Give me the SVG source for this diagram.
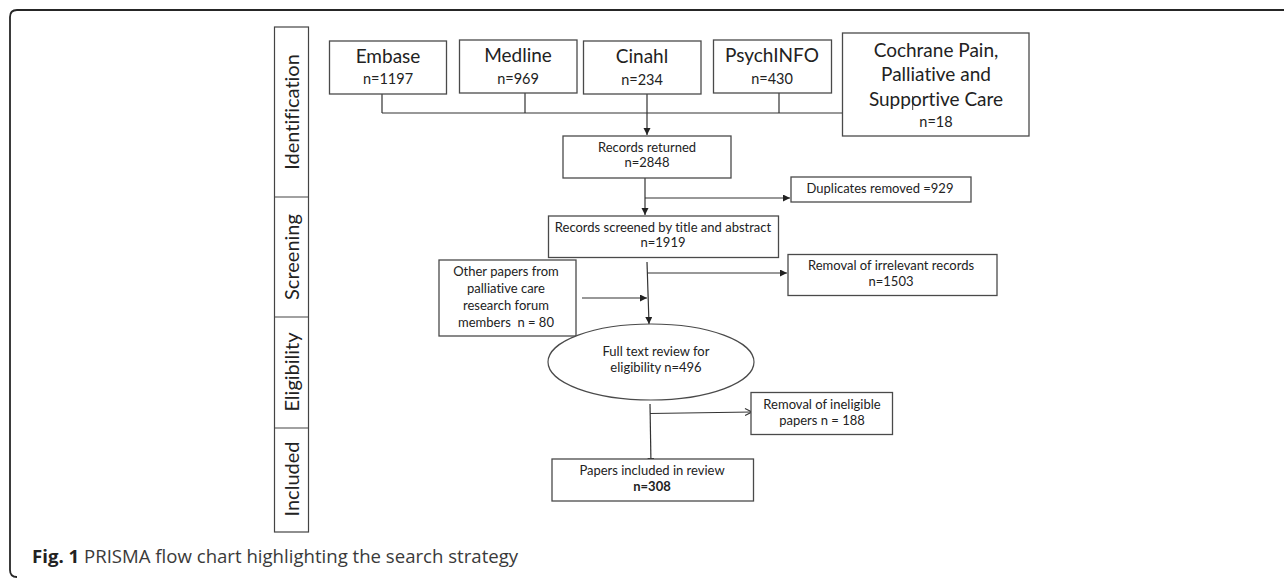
<svg xmlns="http://www.w3.org/2000/svg" width="1284" height="578" viewBox="0 0 1284 578">
<style>
text{font-variant-ligatures:none}
.box{fill:#fff;stroke:#4a4a4a;stroke-width:1.3}
.ln{fill:none;stroke:#333;stroke-width:1.2}
.arr{marker-end:url(#ah)}
.t{font-family:Lato,"Open Sans","Liberation Sans",sans-serif;fill:#222;text-anchor:middle}
.big{font-size:19px}
.num{font-size:14.5px}
.sm{font-size:13px}
.ph{font-family:Lato,"Open Sans","Liberation Sans",sans-serif;font-size:20px;fill:#222;text-anchor:middle}
.cap{font-family:"Open Sans","Noto Sans","Liberation Sans",sans-serif;font-size:18.6px;fill:#3a3a3a}
</style>
<defs>
<marker id="ah" markerUnits="userSpaceOnUse" markerWidth="8" markerHeight="8" refX="7" refY="3.5" orient="auto">
<path d="M0,0 L7,3.5 L0,7 z" fill="#222"/>
</marker>
<marker id="ao" markerUnits="userSpaceOnUse" markerWidth="9" markerHeight="10" refX="7.5" refY="4" orient="auto">
<path d="M0.5,0.5 L7.5,4 L0.5,7.5" fill="none" stroke="#333" stroke-width="1.1"/>
</marker>
</defs>
<rect width="1284" height="578" fill="#fff"/>
<path d="M17,577 Q10,577 10,570 L10,17 Q10,10 17,10 L1284,10" fill="none" stroke="#262626" stroke-width="1.8"/>

<g id="phases">
<rect x="274.5" y="27" width="34" height="505" fill="#fff" stroke="#444" stroke-width="1.2"/>
<line x1="274.5" y1="197" x2="308.5" y2="197" stroke="#444" stroke-width="1.2"/>
<line x1="274.5" y1="317" x2="308.5" y2="317" stroke="#444" stroke-width="1.2"/>
<line x1="274.5" y1="428" x2="308.5" y2="428" stroke="#444" stroke-width="1.2"/>
<text class="ph" transform="translate(299,112) rotate(-90)">Identification</text>
<text class="ph" transform="translate(299,257) rotate(-90)">Screening</text>
<text class="ph" transform="translate(299,372) rotate(-90)">Eligibility</text>
<text class="ph" transform="translate(299,479) rotate(-90)">Included</text>
</g>

<g id="connectors">
<path class="ln" d="M382,94 V113 M525,93 V113 M647,94 V113 M779,93 V113 M382,113 H843"/>
<path class="ln arr" d="M647,113 V135"/>
<path class="ln arr" d="M645,178 V215"/>
<path class="ln arr" d="M645,198 H790"/>
<path class="ln arr" d="M647,262 L649,324"/>
<path class="ln arr" d="M647.3,273 H787"/>
<path class="ln arr" d="M582,298 H647"/>
<path class="ln arr" d="M650,404 L651,465"/>
<path class="ln" d="M650,413.5 L752,412" marker-end="url(#ao)"/>
</g>

<g id="embase">
<rect class="box" x="329.5" y="41" width="117" height="53"/>
<text class="t big" x="388" y="63">Embase</text>
<text class="t num" x="388" y="84">n=1197</text>
</g>
<g id="medline">
<rect class="box" x="459.5" y="40" width="117.5" height="53"/>
<text class="t big" x="518" y="62">Medline</text>
<text class="t num" x="518" y="84">n=969</text>
</g>
<g id="cinahl">
<rect class="box" x="583.5" y="41" width="117.5" height="53"/>
<text class="t big" x="642" y="63">Cinahl</text>
<text class="t num" x="642" y="85">n=234</text>
</g>
<g id="psychinfo">
<rect class="box" x="713.5" y="40" width="118" height="53"/>
<text class="t big" x="772" y="62">PsychINFO</text>
<text class="t num" x="772" y="84">n=430</text>
</g>
<g id="cochrane">
<rect class="box" x="842.5" y="33" width="186.5" height="103"/>
<text class="t big" x="936" y="57">Cochrane Pain,</text>
<text class="t big" x="936" y="81">Palliative and</text>
<text class="t big" x="936" y="106">Supportive Care</text>
<line x1="912.7" y1="96" x2="912.7" y2="110" stroke="#222" stroke-width="0.9"/>
<text class="t num" x="936" y="127">n=18</text>
</g>

<g id="records-returned">
<rect class="box" x="563" y="136" width="168" height="42"/>
<text class="t sm" x="647" y="152">Records returned</text>
<text class="t sm" x="647" y="167">n=2848</text>
</g>
<g id="duplicates">
<rect class="box" x="791" y="177" width="180" height="25"/>
<text class="t sm" x="880" y="193">Duplicates removed =929</text>
</g>
<g id="records-screened">
<rect class="box" x="548.5" y="216" width="230" height="41.5"/>
<text class="t sm" x="663" y="232">Records screened by title and abstract</text>
<text class="t sm" x="663" y="247">n=1919</text>
</g>
<g id="irrelevant">
<rect class="box" x="788" y="254.5" width="209" height="41"/>
<text class="t sm" x="891" y="270">Removal of irrelevant records</text>
<text class="t sm" x="891" y="286">n=1503</text>
</g>
<g id="other-papers">
<rect class="box" x="439" y="260" width="137" height="76"/>
<text class="t sm" x="506" y="276">Other papers from</text>
<text class="t sm" x="506" y="293">palliative care</text>
<text class="t sm" x="506" y="309.5">research forum</text>
<text class="t sm" x="506" y="327" xml:space="preserve">members  n = 80</text>
</g>
<g id="full-text">
<ellipse cx="651" cy="362" rx="103" ry="38" fill="#fff" stroke="#4a4a4a" stroke-width="1.2"/>
<text class="t sm" x="656" y="356">Full text review for</text>
<text class="t sm" x="656" y="372">eligibility n=496</text>
</g>
<g id="ineligible">
<rect class="box" x="751" y="392.5" width="141.5" height="42"/>
<text class="t sm" x="822" y="408.5">Removal of ineligible</text>
<text class="t sm" x="822" y="425">papers n = 188</text>
</g>
<g id="included">
<rect class="box" x="552" y="459" width="201.5" height="42"/>
<text class="t sm" x="652" y="475">Papers included in review</text>
<text class="t sm" x="652" y="491" font-weight="bold">n=308</text>
</g>

<text class="cap" x="32" y="563"><tspan font-weight="bold" fill="#222">Fig. 1</tspan> PRISMA flow chart highlighting the search strategy</text>
</svg>
